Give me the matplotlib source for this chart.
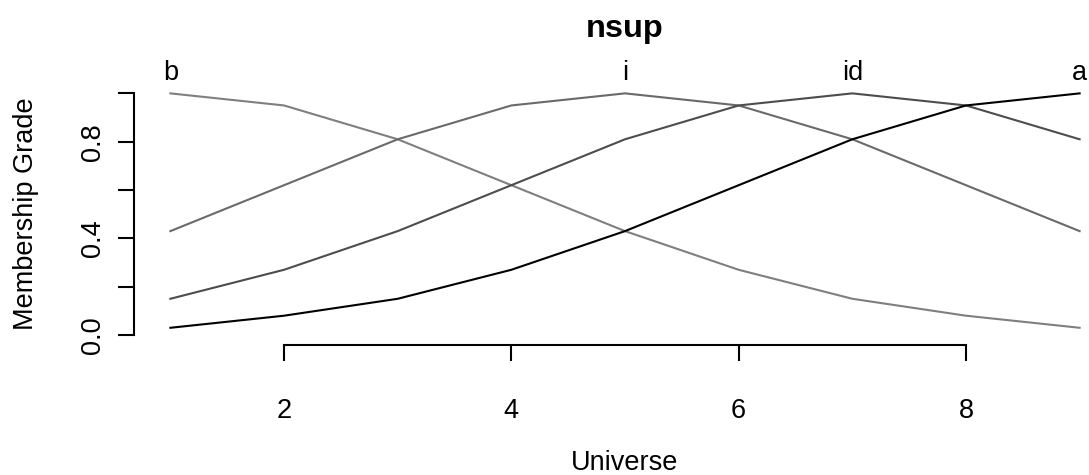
import matplotlib
matplotlib.use("Agg")
import matplotlib.pyplot as plt
from matplotlib.transforms import blended_transform_factory

plt.rcParams['font.family'] = ['Liberation Sans', 'DejaVu Sans']

# Universe points and membership grades of each fuzzy set
universe = [1, 2, 3, 4, 5, 6, 7, 8, 9]
set_names = ["b", "i", "id", "a"]
set_centers = [1, 5, 7, 9]
grade_b = [1.00, 0.95, 0.81, 0.62, 0.43, 0.27, 0.15, 0.08, 0.03]
grade_i = [0.43, 0.62, 0.81, 0.95, 1.00, 0.95, 0.81, 0.62, 0.43]
grade_id = [0.15, 0.27, 0.43, 0.62, 0.81, 0.95, 1.00, 0.95, 0.81]
grade_a = [0.03, 0.08, 0.15, 0.27, 0.43, 0.62, 0.81, 0.95, 1.00]
grades = [grade_b, grade_i, grade_id, grade_a]
colors = ["#7f7f7f", "#6a6a6a", "#4d4d4d", "#000000"]

x_ticks = [2, 4, 6, 8]
y_ticks = [0.0, 0.2, 0.4, 0.6, 0.8, 1.0]
y_tick_labels = ["0.0", "", "0.4", "", "0.8", ""]

FS = 19.5

W, H = 1089, 475
fig = plt.figure(figsize=(W / 100, H / 100), dpi=100)

# plot region (in pixels): left edge 134, right edge 1116, top 83.7, bottom 344.7
left, right, top, bottom = 134, 1116, 83.7, 344.7
ax = fig.add_axes([left / W, 1 - bottom / H, (right - left) / W, (bottom - top) / H])
ax.set_xlim(0.68, 9.32)
ax.set_ylim(-0.04, 1.04)

for g, c in zip(grades, colors):
    ax.plot(universe, g, color=c, lw=1.5, solid_joinstyle="miter", clip_on=False)

for s in ["top", "right"]:
    ax.spines[s].set_visible(False)
ax.spines["bottom"].set_bounds(x_ticks[0], x_ticks[-1])
ax.spines["left"].set_bounds(0, 1)
for s in ["bottom", "left"]:
    ax.spines[s].set_linewidth(1.5)

ax.set_xticks(x_ticks)
ax.set_xticklabels([str(v) for v in x_ticks])
ax.set_yticks(y_ticks)
ax.set_yticklabels(y_tick_labels, rotation=90, va="center")
ax.tick_params(axis="both", length=11.5, width=1.5, labelsize=FS, direction="out")
ax.tick_params(axis="x", pad=27)
ax.tick_params(axis="y", pad=9)

# set names above each peak
trans = blended_transform_factory(ax.transData, ax.transAxes)
for name, cx in zip(set_names, set_centers):
    ax.annotate(name, xy=(cx, 1.0), xycoords=trans, xytext=(0, 2.5),
                textcoords="offset points", ha="center", va="baseline",
                fontsize=FS, annotation_clip=False)

fig.text(625 / W, 1 - 37 / H, "nsup", ha="center", va="baseline",
         fontsize=FS * 1.2, fontweight="bold")
fig.text(625 / W, 1 - 470 / H, "Universe", ha="center", va="baseline", fontsize=FS)
fig.text(26 / W, 1 - 214 / H, "Membership Grade", ha="center", va="center",
         rotation=90, fontsize=FS)

fig.savefig("out.png", dpi=100)
